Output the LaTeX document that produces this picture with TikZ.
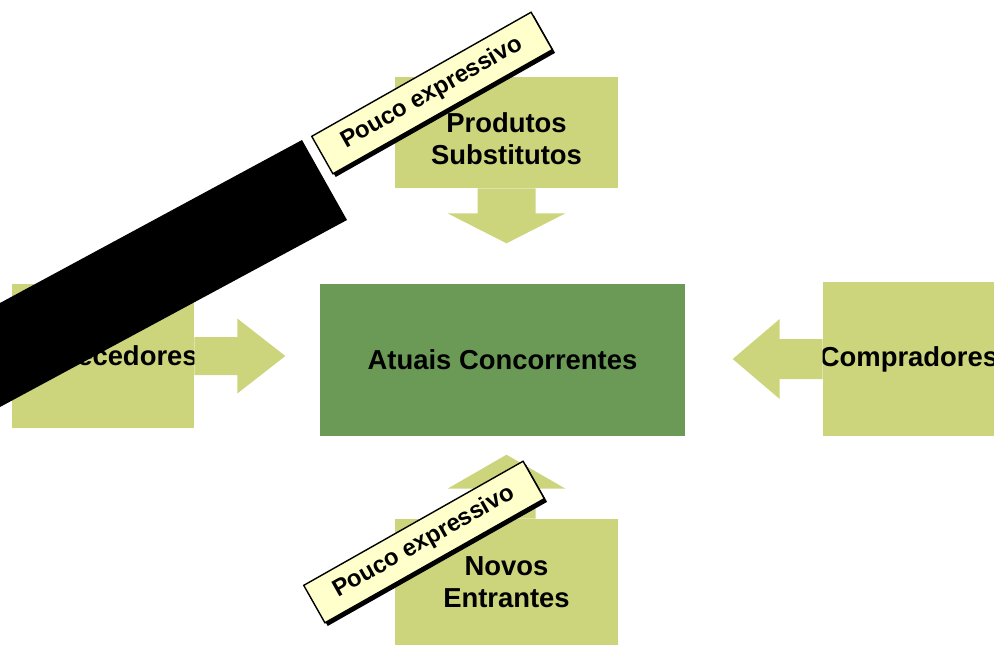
\documentclass[tikz,border=0pt]{standalone}
\usepackage{fontspec}
\setmainfont{Liberation Sans}
\usetikzlibrary{calc,shadows}

\definecolor{forcelight}{HTML}{CCD47C}
\definecolor{forcedark}{HTML}{6A9A55}
\definecolor{tagyellow}{HTML}{FFFFCC}

\tikzset{
	forcetext/.style={align=center, inner sep=0pt, font=\fontsize{19.5}{23}\selectfont\bfseries},
	force/.style={shape=rectangle, fill=forcelight, forcetext},
	rivalry/.style={force, fill=forcedark},
	forcearrow/.style={fill=forcelight},
	tag/.style={shape=rectangle, draw=black, line width=1pt, fill=tagyellow, rotate=29.5, minimum width=6.3cm, minimum height=1.075cm, inner sep=0pt, font=\fontsize{17}{20}\selectfont\bfseries, drop shadow={shadow xshift=0.07cm, shadow yshift=-0.08cm, fill=black, opacity=1}}
}

\begin{document}
\begin{tikzpicture}[x=0.025cm, y=-0.025cm]
		\useasboundingbox (0,0) rectangle (994,646);
		\clip (0,0) rectangle (994,646);
		% Paths, nodes and wires:
		\node[force, minimum width=5.575cm, minimum height=2.775cm, label={[forcetext, yshift=-0.16cm]center:Produtos\\Substitutos}] (produtos) at (506.5,132.5){};
		\node[force, minimum width=4.55cm, minimum height=3.6cm, label={[forcetext, xshift=0.1cm]center:Fornecedores}] (fornecedores) at (103,356){};
		\node[rivalry, minimum width=9.125cm, minimum height=3.8cm] (atuais) at (502.5,360){Atuais Concorrentes};
		\node[force, minimum width=4.3cm, minimum height=3.85cm, label={[forcetext]center:Compradores}] (compradores) at (909,359){};
		\node[force, minimum width=5.575cm, minimum height=3.15cm] (novos) at (506.5,582){Novos\\Entrantes};
		\fill[forcearrow] ($(produtos.south)+(-29,0)$) -- ++(0,25) -- ++(-30,0) -- ++(59,30) -- ++(59,-30) -- ++(-30,0) -- ++(0,-25) -- cycle;
		\fill[forcearrow] ($(fornecedores.east)+(0,-19)$) -- ++(43,0) -- ++(0,-18.5) -- ++(48,37.5) -- ++(-48,37.5) -- ++(0,-18.5) -- ++(-43,0) -- cycle;
		\fill[forcearrow] ($(compradores.west)+(0,-20)$) -- ++(-43,0) -- ++(0,-20) -- ++(-47,40) -- ++(47,40) -- ++(0,-20) -- ++(43,0) -- cycle;
		\fill[forcearrow] ($(novos.north)+(-29,0)$) -- ++(0,-30) -- ++(-30,0) -- ++(59,-34) -- ++(59,34) -- ++(-30,0) -- ++(0,30) -- cycle;
		% black cover over the left side
		\fill[black] (302,140) -- (347,220) -- (0,407) -- (0,303) -- cycle;
		\node[tag] (tagtop) at (432,93){Pouco expressivo};
		\node[tag] (tagbottom) at (424,542){Pouco expressivo};
	\end{tikzpicture}
\end{document}
